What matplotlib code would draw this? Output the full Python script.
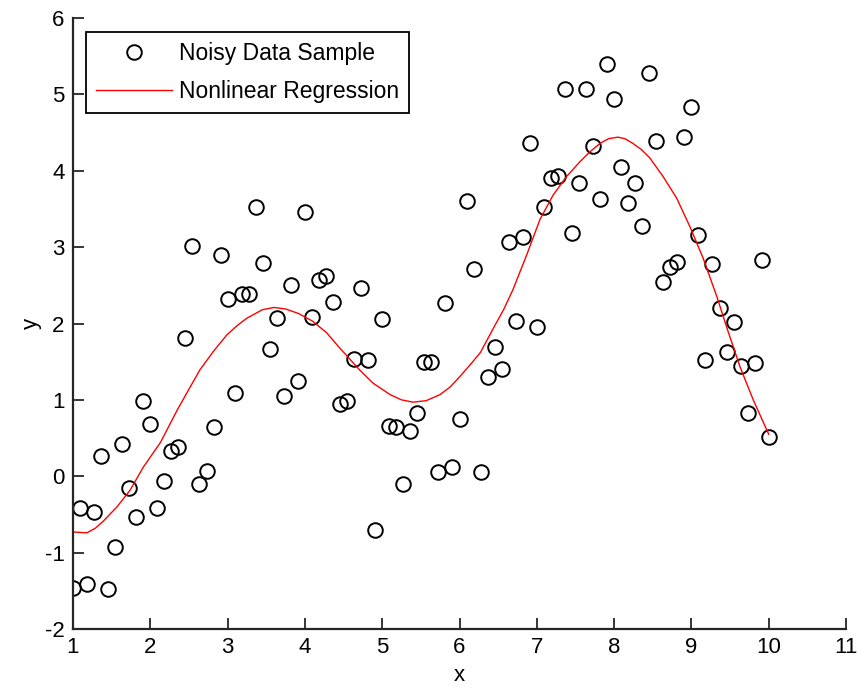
import numpy as np
import matplotlib.pyplot as plt

plt.rcParams['font.family'] = ['Liberation Sans', 'DejaVu Sans']
plt.rcParams['axes.unicode_minus'] = False

# Noisy samples (100 points, x evenly spaced from 1 to 10)
x_data = np.linspace(1, 10, 100)
y_data = [-1.46, -0.41, -1.41, -0.47, 0.27, -1.47, -0.92, 0.42, -0.15, -0.53,
          0.99, 0.69, -0.41, -0.06, 0.33, 0.38, 1.81, 3.02, -0.10, 0.07,
          0.65, 2.90, 2.32, 1.09, 2.39, 2.39, 3.53, 2.79, 1.67, 2.07,
          1.05, 2.51, 1.25, 3.46, 2.09, 2.57, 2.62, 2.28, 0.95, 0.99,
          1.54, 2.47, 1.52, -0.71, 2.06, 0.66, 0.65, -0.10, 0.59, 0.83,
          1.50, 1.50, 0.06, 2.27, 0.12, 0.75, 3.60, 2.71, 0.06, 1.30,
          1.69, 1.41, 3.07, 2.03, 3.13, 4.36, 1.96, 3.53, 3.91, 3.93,
          5.07, 3.19, 3.84, 5.07, 4.32, 3.63, 5.40, 4.94, 4.05, 3.58,
          3.84, 3.28, 5.28, 4.39, 2.54, 2.74, 2.81, 4.44, 4.84, 3.16,
          1.52, 2.78, 2.20, 1.63, 2.02, 1.45, 0.83, 1.48, 2.83, 0.52]

# Fitted curve
x_fit = [1.0, 1.18, 1.29, 1.39, 1.57, 1.74, 1.91, 2.13, 2.35, 2.5, 2.64, 2.82,
         2.99, 3.12, 3.25, 3.45, 3.6, 3.75, 3.92, 4.1, 4.28, 4.45, 4.71, 4.88,
         5.1, 5.25, 5.4, 5.57, 5.75, 5.88, 6.0, 6.13, 6.27, 6.45, 6.57, 6.69,
         6.87, 7.04, 7.21, 7.39, 7.56, 7.69, 7.82, 7.93, 8.05, 8.14, 8.24,
         8.35, 8.46, 8.63, 8.81, 8.98, 9.15, 9.33, 9.46, 9.63, 9.8, 10.0]
y_fit = [-0.73, -0.74, -0.68, -0.59, -0.40, -0.18, 0.12, 0.44, 0.87, 1.14, 1.39, 1.64,
         1.85, 1.97, 2.07, 2.18, 2.21, 2.19, 2.13, 2.03, 1.88, 1.68, 1.39, 1.22,
         1.07, 1.00, 0.97, 0.99, 1.07, 1.17, 1.30, 1.45, 1.62, 1.96, 2.18, 2.44,
         2.90, 3.36, 3.68, 3.93, 4.12, 4.25, 4.36, 4.42, 4.44, 4.42, 4.36,
         4.28, 4.17, 3.93, 3.64, 3.27, 2.86, 2.35, 1.94, 1.43, 1.0, 0.55]

fig = plt.figure(figsize=(8.58, 6.88), dpi=100)
ax = fig.add_axes([73/858, 1 - 629/688, 773/858, 611/688])

ax.plot(x_data, y_data, 'o', mfc='none', mec='black', ms=10.5, mew=1.4,
        label='Noisy Data Sample')
ax.plot(x_fit, y_fit, '-', color='red', lw=1.0, label='Nonlinear Regression')

ax.set_xlim(1, 11)
ax.set_ylim(-2, 6)
ax.set_xticks(range(1, 12))
ax.set_yticks(range(-2, 7))
ax.set_xlabel('x', fontsize=16, labelpad=5)
ax.set_ylabel('y', fontsize=16, labelpad=2)

for side in ['top', 'right']:
    ax.spines[side].set_visible(False)
for side in ['left', 'bottom']:
    ax.spines[side].set_linewidth(1.6)
    ax.spines[side].set_color('#262626')
ax.tick_params(direction='in', length=8, width=1.3, color='#262626',
               labelsize=16, pad=6)

leg = ax.legend(loc='upper left', bbox_to_anchor=(0.0168, 0.977), borderaxespad=0,
                fontsize=16.5, numpoints=1, handlelength=3.3, handletextpad=0.3,
                labelspacing=0.62, borderpad=0.45, fancybox=False, framealpha=1)
leg.get_frame().set_edgecolor('black')
leg.get_frame().set_linewidth(1.3)

fig.savefig('out.png', dpi=100)
